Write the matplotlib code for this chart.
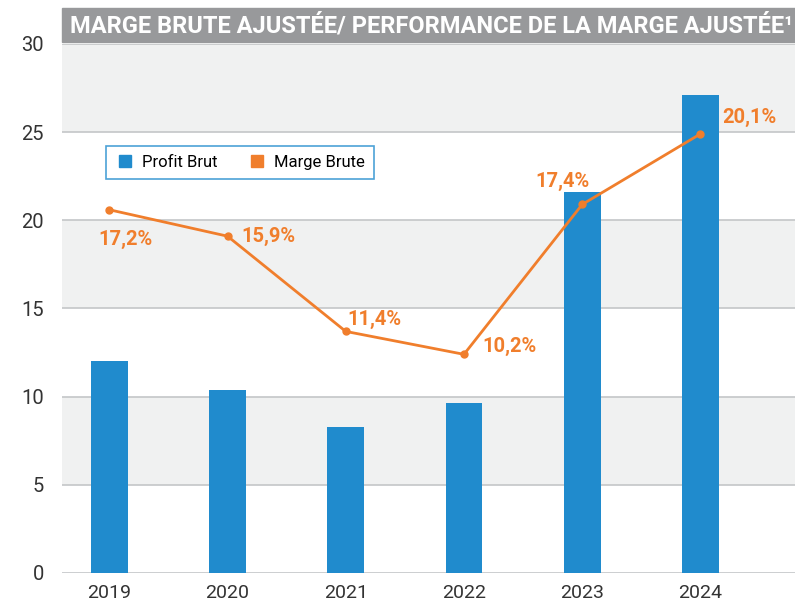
import matplotlib.pyplot as plt
from matplotlib.patches import Rectangle
from matplotlib.lines import Line2D

plt.rcParams['font.family'] = ['Roboto', 'DejaVu Sans']

years = ['2019', '2020', '2021', '2022', '2023', '2024']
profit_brut = [12.0, 10.4, 8.3, 9.65, 21.6, 27.1]
marge_pos = [20.6, 19.1, 13.7, 12.4, 20.9, 24.9]
marge_labels = ['17,2%', '15,9%', '11,4%', '10,2%', '17,4%', '20,1%']
label_offsets = [(-11, -30), (14, 0), (2, 12), (18, 8), (7, 23), (22, 16)]
label_align = ['left', 'left', 'left', 'left', 'right', 'left']

blue = '#208bcd'
orange = '#f07e2c'

fig = plt.figure(figsize=(7.95, 6.05), dpi=100)
ax = fig.add_axes([0.078, 0.0529, 0.922, 0.8744])

ax.set_ylim(0, 30)
ax.set_xlim(-0.4, 5.8)

# alternating bands
for lo in range(0, 30, 5):
    if (lo // 5) % 2 == 1:
        ax.axhspan(lo, lo + 5, color='#f0f1f1', zorder=0, lw=0)
for y in range(0, 31, 5):
    ax.axhline(y, color='#c4c6c8', lw=1.2, zorder=1)

x = list(range(len(years)))
ax.bar(x, profit_brut, width=0.31, color=blue, zorder=2)
ax.plot(x, marge_pos, color=orange, lw=2, marker='o', ms=5, zorder=3)

for i, lab in enumerate(marge_labels):
    ax.annotate(lab, (x[i], marge_pos[i]), xytext=label_offsets[i], textcoords='offset pixels',
                ha=label_align[i], va='center',
                color=orange, fontsize=14.5, fontweight='bold', zorder=4)

ax.set_xticks(x)
ax.set_xticklabels(years, fontsize=14, color='#333333')
ax.set_yticks(range(0, 31, 5))
ax.tick_params(axis='y', labelsize=14.5, colors='#333333', length=0, pad=13)
ax.tick_params(axis='x', length=0, pad=8)
for s in ax.spines.values():
    s.set_visible(False)

handles = [Line2D([], [], ls='', marker='s', color=blue, ms=8),
           Line2D([], [], ls='', marker='s', color=orange, ms=8)]
leg = ax.legend(handles, ['Profit Brut', 'Marge Brute'], ncol=2, loc='upper left',
                bbox_to_anchor=(0.06, 0.807), borderaxespad=0, fontsize=12, frameon=True,
                fancybox=False, edgecolor=blue, handlelength=1.2, handletextpad=0.4,
                columnspacing=1.8, borderpad=0.55)
leg.get_frame().set_linewidth(1.2)

# title bar
fig.patches.append(Rectangle((0.078, 0.9306), 0.922, 0.0562, transform=fig.transFigure,
                             color='#98999b', zorder=0))
fig.text(0.088, 0.958, 'MARGE BRUTE AJUSTÉE/ PERFORMANCE DE LA MARGE AJUSTÉE¹',
         color='white', fontsize=17, fontweight='bold', va='center', ha='left')

fig.savefig('out.png', dpi=100)
